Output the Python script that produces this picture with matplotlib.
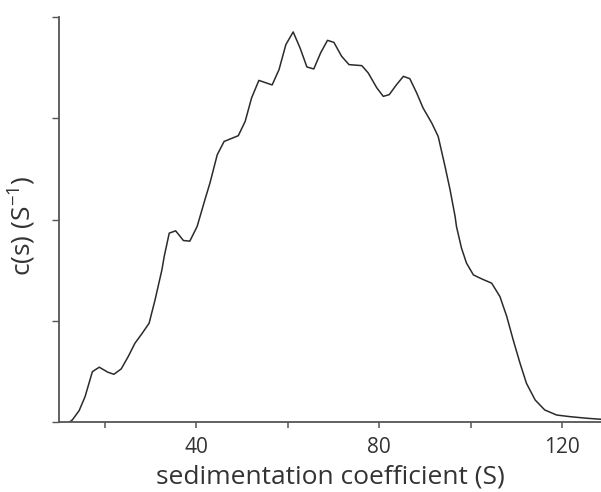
import matplotlib
matplotlib.use("Agg")
import matplotlib.pyplot as plt
from matplotlib.ticker import FixedLocator, NullFormatter

plt.rcParams['font.family'] = ['Open Sans', 'DejaVu Sans']

s_values = [12.4, 12.9, 14.4, 15.7, 17.3, 18.8, 20.7, 22.0, 23.6, 25.2, 26.6, 28.2, 29.7,
            31.0, 32.5, 33.0, 34.1, 35.5, 37.2, 38.6, 40.2, 41.9, 43.0, 44.6, 46.1, 49.2,
            50.7, 52.1, 53.7, 56.6, 58.1, 59.6, 61.2, 62.7, 64.2, 65.7, 67.2, 68.7, 70.1,
            71.8, 73.4, 76.2, 77.6, 79.5, 80.9, 82.2, 83.8, 85.3, 86.7, 88.2, 89.6, 91.5,
            92.9, 94.4, 95.5, 96.6, 96.9, 98.0, 99.1, 100.6, 102.4, 104.6, 106.4, 107.9,
            109.3, 110.8, 112.2, 114.1, 116.2, 118.8, 121.7, 125.4, 128.5]
cs_values = [0.0, 0.017, 0.109, 0.248, 0.495, 0.539, 0.489, 0.469, 0.522, 0.650, 0.776, 0.875,
             0.974, 1.205, 1.502, 1.634, 1.865, 1.888, 1.792, 1.786, 1.931, 2.195, 2.360,
             2.641, 2.772, 2.829, 2.970, 3.202, 3.376, 3.331, 3.482, 3.730, 3.855, 3.697,
             3.509, 3.489, 3.648, 3.772, 3.752, 3.614, 3.532, 3.522, 3.450, 3.301, 3.218,
             3.235, 3.334, 3.416, 3.393, 3.252, 3.103, 2.954, 2.822, 2.525, 2.294, 2.030,
             1.931, 1.717, 1.568, 1.452, 1.413, 1.370, 1.238, 1.040, 0.809, 0.578, 0.380,
             0.215, 0.116, 0.066, 0.050, 0.034, 0.024]

x_major = [40, 80, 120]
x_minor = [20, 60, 100]
y_ticks = [0, 1, 2, 3, 4]

fig = plt.figure(figsize=(6.01, 4.92), dpi=100)
ax = fig.add_axes([59/601, 1 - 421.7/492, 1 - 59/601, (421.7 - 17.3)/492])

ax.plot(s_values, cs_values, color='#2b2b2b', lw=1.1)
ax.set_xlim(10, 128.5)
ax.set_ylim(0, 4)

for side in ['top', 'right']:
    ax.spines[side].set_visible(False)
for side in ['left', 'bottom']:
    ax.spines[side].set_color('#555555')
    ax.spines[side].set_linewidth(1.3)

ax.xaxis.set_major_locator(FixedLocator(x_major))
ax.xaxis.set_minor_locator(FixedLocator(x_minor))
ax.yaxis.set_major_locator(FixedLocator(y_ticks))
ax.yaxis.set_major_formatter(NullFormatter())
ax.tick_params(axis='x', which='both', direction='out', length=4, width=1.1, color='#555555',
               labelsize=15, labelcolor='#333333', pad=7)
ax.tick_params(axis='y', which='both', direction='out', length=5, width=1.0, color='#555555')

ax.set_xlabel('sedimentation coefficient (S)', fontsize=19, color='#333333', labelpad=5)
ax.set_ylabel('c(s) (S$^{\\mathregular{-1}}$)', fontsize=19, color='#333333')
ax.yaxis.set_label_coords((37 - 59) / 542, (421.7 - 226) / 404.4)

fig.savefig('out.png', dpi=100)
